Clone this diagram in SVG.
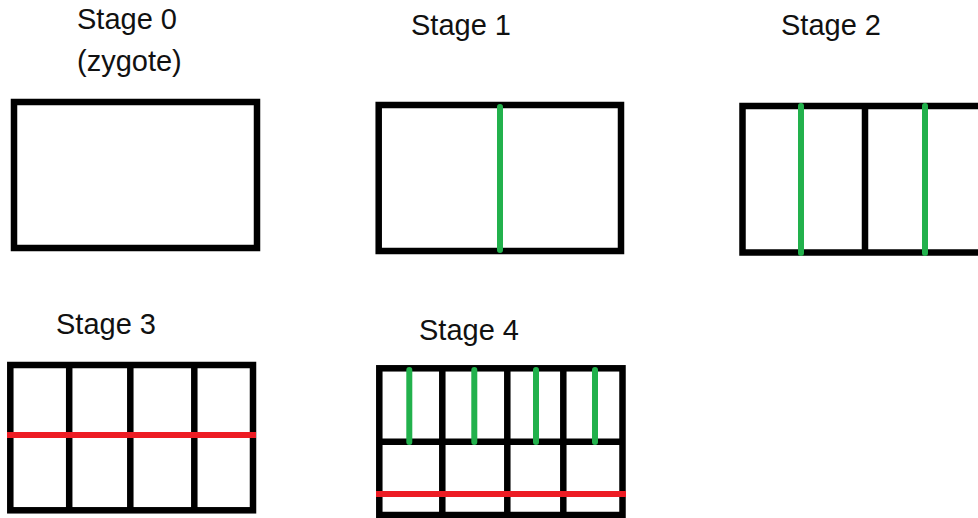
<svg xmlns="http://www.w3.org/2000/svg" width="978" height="518" viewBox="0 0 978 518">
<style>
.lbl{font-family:"Liberation Sans",Arial,sans-serif;font-size:29px;fill:#111}
.box{fill:none;stroke:#000;stroke-width:6.5}
.div{stroke:#000;stroke-width:6.5}
.g{stroke:#22B14C;stroke-width:6;stroke-linecap:round}
.r{stroke:#ED1C24;stroke-width:6}
</style>
<rect width="978" height="518" fill="#fff"/>
<g id="stage0">
<text class="lbl" x="77" y="29">Stage 0</text>
<text class="lbl" x="77" y="71">(zygote)</text>
<rect class="box" x="14" y="102" width="243" height="146"/>
</g>
<g id="stage1">
<text class="lbl" x="411" y="35">Stage 1</text>
<rect class="box" x="378.7" y="105" width="242.3" height="146"/>
<line class="g" x1="500" y1="107" x2="500" y2="250"/>
</g>
<g id="stage2">
<text class="lbl" x="781" y="35">Stage 2</text>
<rect class="box" x="742.5" y="106" width="245" height="146.5"/>
<line class="div" x1="865" y1="106" x2="865" y2="252.5"/>
<line class="g" x1="801" y1="106" x2="801" y2="253"/>
<line class="g" x1="925" y1="106" x2="925" y2="253"/>
</g>
<g id="stage3">
<text class="lbl" x="56" y="334">Stage 3</text>
<rect class="box" x="10.3" y="365" width="242.7" height="145.3"/>
<line class="div" x1="69.2" y1="365" x2="69.2" y2="510"/>
<line class="div" x1="130.3" y1="365" x2="130.3" y2="510"/>
<line class="div" x1="194.3" y1="365" x2="194.3" y2="510"/>
<line class="r" x1="7" y1="435" x2="256" y2="435"/>
</g>
<g id="stage4">
<text class="lbl" x="419" y="340">Stage 4</text>
<rect class="box" x="379.3" y="368.3" width="243.2" height="146.7"/>
<line class="div" x1="442.3" y1="368" x2="442.3" y2="515"/>
<line class="div" x1="507.3" y1="368" x2="507.3" y2="515"/>
<line class="div" x1="563.3" y1="368" x2="563.3" y2="515"/>
<line class="div" x1="379" y1="441.7" x2="622.5" y2="441.7"/>
<line class="g" x1="409.3" y1="370" x2="409.3" y2="442"/>
<line class="g" x1="474.3" y1="370" x2="474.3" y2="442"/>
<line class="g" x1="536" y1="370" x2="536" y2="442"/>
<line class="g" x1="595" y1="370" x2="595" y2="442"/>
<line class="r" x1="376" y1="494" x2="626" y2="494"/>
</g>
<g id="connectors"/>
</svg>
